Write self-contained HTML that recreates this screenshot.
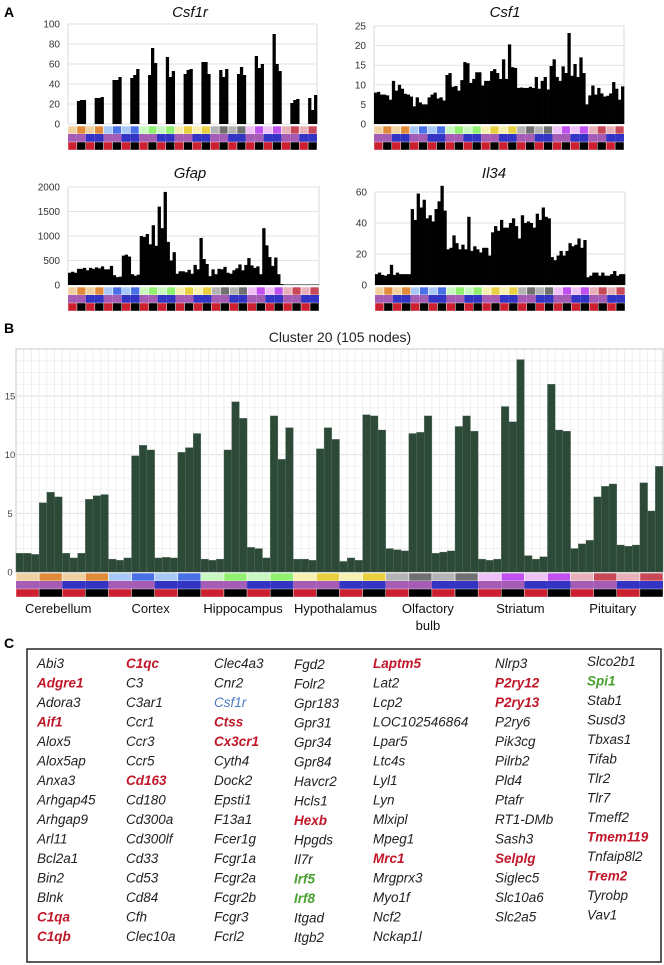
<!DOCTYPE html>
<html><head><meta charset="utf-8"><style>
html,body{margin:0;padding:0;background:#fff;}
svg{display:block;font-family:"Liberation Sans",sans-serif;}
</style></head><body>
<svg id="fig" width="664" height="965" viewBox="0 0 664 965" xmlns="http://www.w3.org/2000/svg">
<text x="4" y="17" font-size="14" font-weight="bold">A</text>
<text x="4" y="333" font-size="14" font-weight="bold">B</text>
<text x="4" y="648" font-size="14" font-weight="bold">C</text>
<g id="pa"></g>
<g id="pb"></g>
<g id="pc"></g>
</svg>
<script>
// ---- data ----
const csf1rVals=[0,0,0, 23,24,24, 0,0,0, 26,26,27, 0,0,0, 44,44,47, 0,0,0, 46,49,55, 0,0,0, 49,76,61, 0,0,0, 67,47,53, 0,0,0, 50,54,55, 0,0,0, 62,62,50, 0,0,0, 54,47,55, 0,0,0, 50,57,49, 0,0,0, 68,56,60, 0,0,0, 90,60,53, 0,0,0, 21,24,25, 0,0,0, 26,14,29];
const csf1Vals=[8,8.2,7.5, 7.5,7.3,6.2, 11,8.5,10, 9,7.7,7.5, 7,4.5,6.8, 5.5,5,5, 6.8,7.5,8, 6.5,6.8,6, 12.5,13,9.5, 9.7,8.5,11.2, 15.8,15.5,10.5, 11.5,13.2,13.2, 9.8,11,11, 13.5,14,13, 11.5,16.5,11.5, 20.3,14.5,14.3, 9.2,9.3,9.2, 9.2,9.5,9.2, 12,9,11, 12,8.8,14.8, 16.5,12,11, 14.7,13,23.2, 12.3,15.3,12, 17,13,5, 7.3,9.8,7.5, 9.2,7.8,7, 7.2,7.8,10.7, 9,6.2,9.6];
const gfapVals=[250,270,250, 330,330,350, 300,350,330, 360,340,380, 320,320,390, 200,160,170, 600,620,580, 220,190,210, 1000,980,1040, 830,1220,800, 1600,1160,1900, 880,500,670, 230,280,280, 260,310,230, 410,320,960, 530,430,180, 320,220,330, 320,370,250, 230,300,340, 420,300,410, 550,400,350, 380,220,1160, 810,570,390, 560,220,20, 10,10,10, 10,10,10, 10,10,10, 10,10,10];
const il34Vals=[7,8,6.5, 6,7,13, 6.5,8,7, 7,7,7, 49,42,59, 50,55,43, 45,41,49, 54,64,48, 23,24,32, 27,23,26, 23,44,22, 25,23,21, 24,24,19, 34,38,35, 42,37,37, 40,43,38, 30,45,40, 41,40,37, 46,42,50, 44,43,18, 16,19,22, 19,22,27, 25,26,30, 24,29,5, 6,8,8, 6,8,6, 6,7,9, 6,7,7];
const csf1rTicks=[0,20,40,60,80,100];
const csf1Ticks=[0,5,10,15,20,25];
const gfapTicks=[0,500,1000,1500,2000];
const il34Ticks=[0,20,40,60];
const clusterVals=[1.6,1.6,1.5, 5.9,6.8,6.4, 1.6,1.2,1.6, 6.2,6.5,6.6, 1.1,1.0,1.2, 9.9,10.8,10.4, 1.2,1.25,1.2, 10.2,10.6,11.8, 1.1,1.0,1.1, 10.4,14.5,13.1, 2.1,2.0,1.2, 13.3,9.6,12.3, 1.1,1.1,1.0, 10.5,12.3,11.3, 0.9,1.2,1.0, 13.4,13.3,12.1, 2.0,1.9,1.8, 11.8,11.9,13.3, 1.6,1.7,1.8, 12.4,13.3,12.0, 1.1,1.0,1.1, 14.1,12.8,18.1, 1.4,1.1,1.3, 16.0,12.1,12.0, 2.0,2.4,2.7, 6.4,7.3,7.5, 2.3,2.2,2.3, 7.6,5.2,9.0];
const clusterTicks=[0,5,10,15];
const regions=["Cerebellum","Cortex","Hippocampus","Hypothalamus","Olfactory","Striatum","Pituitary"];
const regionLight=["#f0d0a0","#a8c8f8","#c8f8c0","#f8f0b0","#b4b4b4","#f0c0f8","#e8b0b8"];
const regionDark=["#e08a3a","#4a70e8","#90f070","#e8d040","#707070","#c050f0","#c84858"];
const genes=[
["Abi3","Adgre1","Adora3","Aif1","Alox5","Alox5ap","Anxa3","Arhgap45","Arhgap9","Arl11","Bcl2a1","Bin2","Blnk","C1qa","C1qb"],
["C1qc","C3","C3ar1","Ccr1","Ccr3","Ccr5","Cd163","Cd180","Cd300a","Cd300lf","Cd33","Cd53","Cd84","Cfh","Clec10a"],
["Clec4a3","Cnr2","Csf1r","Ctss","Cx3cr1","Cyth4","Dock2","Epsti1","F13a1","Fcer1g","Fcgr1a","Fcgr2a","Fcgr2b","Fcgr3","Fcrl2"],
["Fgd2","Folr2","Gpr183","Gpr31","Gpr34","Gpr84","Havcr2","Hcls1","Hexb","Hpgds","Il7r","Irf5","Irf8","Itgad","Itgb2"],
["Laptm5","Lat2","Lcp2","LOC102546864","Lpar5","Ltc4s","Lyl1","Lyn","Mlxipl","Mpeg1","Mrc1","Mrgprx3","Myo1f","Ncf2","Nckap1l"],
["Nlrp3","P2ry12","P2ry13","P2ry6","Pik3cg","Pilrb2","Pld4","Ptafr","RT1-DMb","Sash3","Selplg","Siglec5","Slc10a6","Slc2a5"],
["Slco2b1","Spi1","Stab1","Susd3","Tbxas1","Tifab","Tlr2","Tlr7","Tmeff2","Tmem119","Tnfaip8l2","Trem2","Tyrobp","Vav1"]];
const redGenes=["Adgre1","Aif1","C1qa","C1qb","C1qc","Cd163","Ctss","Cx3cr1","Hexb","Laptm5","Mrc1","P2ry12","P2ry13","Selplg","Tmem119","Trem2"];
const greenGenes=["Irf5","Irf8","Spi1"];
const blueGenes=["Csf1r"];

const NS="http://www.w3.org/2000/svg";
function mk(tag,attrs,parent){const e=document.createElementNS(NS,tag);for(const k in attrs)e.setAttribute(k,attrs[k]);parent.appendChild(e);return e;}

function strips(g,x0,x1,y0,h){
  const w=(x1-x0)/28;
  for(let i=0;i<28;i++){
    const r=Math.floor(i/4);
    const c1=mk('rect',{x:x0+i*w,y:y0,width:w,height:h,fill:(i%2? regionDark[r]:regionLight[r]),stroke:'#fff','stroke-width':0.6},g);
    
    
    const c2=mk('rect',{x:x0+i*w,y:y0+h,width:w,height:h,fill:(Math.floor(i/2)%2? '#3434c4':'#a45cb4')},g);
    
    
    const c3=mk('rect',{x:x0+i*w,y:y0+2*h,width:w,height:h,fill:(i%2? '#000':'#cc2030'),stroke:'#fff','stroke-width':0.4},g);
    
    
  }
}

function small(name,vals,ticks,x0,x1,yTop,y0,max,tx,ty){
  const g=mk('g',{},document.getElementById('pa'));
  
  
  const sy=v=>y0-(v/max)*(y0-yTop);
  const t=mk('text',{x:tx,y:ty,'font-size':15,'font-style':'italic','text-anchor':'middle',fill:'#111'},g);
  t.textContent=name;
  
  
  const frame=mk('rect',{x:x0,y:sy(max),width:x1-x0,height:y0-sy(max),fill:'none',stroke:'#d8d8d8','stroke-width':1},g);
  
  
  ticks.forEach(v=>{
    const l=mk('line',{x1:x0,x2:x1,y1:sy(v),y2:sy(v),stroke:'#e2e2e2','stroke-width':1},g);
    
    
    const tl=mk('text',{x:x0-8,y:sy(v)+3.5,'font-size':10,'text-anchor':'end',fill:'#333'},g);
    tl.textContent=v;
    
    
  });
  const bw=(x1-x0)/vals.length;
  vals.forEach((v,i)=>{
    if(v<=0)return;
    const b=mk('rect',{x:x0+i*bw,y:sy(v),width:bw+0.3,height:y0-sy(v),fill:'#000'},g);
    
    
  });
  strips(g,x0,x1,y0+2,8);
}
small('Csf1r',csf1rVals,csf1rTicks,68,317,24,124,100,190,17);
small('Csf1',csf1Vals,csf1Ticks,374,624,26,124,25,505,17);
small('Gfap',gfapVals,gfapTicks,68,319,187,285,2000,190,178);
small('Il34',il34Vals,il34Ticks,375,625,192,285,60,494,178);

// Panel B
(function(){
  const g=document.getElementById('pb');
  const x0=16,x1=663,y0=572,max=19,yTop=349;
  const sy=v=>y0-(v/max)*(y0-yTop);
  const t=mk('text',{x:340,y:342,'font-size':14,'text-anchor':'middle',fill:'#222'},g);
  t.textContent='Cluster 20 (105 nodes)';
  
  
  const bw=(x1-x0)/clusterVals.length;
  for(let v=1;v<max;v++){
    const l=mk('line',{x1:x0,x2:x1,y1:sy(v),y2:sy(v),stroke:(v%5?'#f0f0f0':'#e0e0e0'),'stroke-width':1},g);
    
    
  }
  for(let i=1;i<clusterVals.length;i++){
    const l=mk('line',{x1:x0+i*bw,x2:x0+i*bw,y1:yTop,y2:y0,stroke:'#efefef','stroke-width':1},g);
    
    
  }
  const fr=mk('rect',{x:x0,y:yTop,width:x1-x0,height:y0-yTop,fill:'none',stroke:'#c8c8c8','stroke-width':1},g);
  
  
  clusterTicks.forEach(v=>{
    const tl=mk('text',{x:10,y:sy(v)+3.5,'font-size':9.5,'text-anchor':'middle',fill:'#444'},g);
    tl.textContent=v;
    
    
  });
  clusterVals.forEach((v,i)=>{
    const b=mk('rect',{x:x0+i*bw,y:sy(v),width:bw,height:y0-sy(v),fill:'#2d4a38',stroke:'#5a7464','stroke-width':0.3},g);
    
    
  });
  strips(g,x0,x1,y0+1,8);
  const gw=(x1-x0)/7;
  regions.forEach((r,i)=>{
    const tl=mk('text',{x:x0+gw*(i+0.5)-4,y:613,'font-size':13,'text-anchor':'middle',fill:'#111'},g);
    tl.textContent=r;
    
    
  });
  const b2=mk('text',{x:x0+gw*4.5-4,y:630,'font-size':13,'text-anchor':'middle',fill:'#111'},g);
  b2.textContent='bulb';
  
  
})();

// Panel C
(function(){
  const g=document.getElementById('pc');
  const box=mk('rect',{x:27,y:649,width:634,height:313,fill:'none',stroke:'#222','stroke-width':1.5},g);
  
  
  const colX=[37,126,214,294,373,495,587];
  const colY=[668,668,668,669,668,668,666];
  genes.forEach((col,ci)=>{
    col.forEach((name,ri)=>{
      const red=redGenes.includes(name),gr=greenGenes.includes(name),bl=blueGenes.includes(name);
      const tl=mk('text',{x:colX[ci],y:colY[ci]+ri*19.5,'font-size':13.5,'font-style':'italic','font-weight':(red||gr?'bold':'normal'),fill:(red?'#c0182a':gr?'#4aa030':bl?'#4a7ac0':'#222')},g);
      tl.textContent=name;
      
      
    });
  });
})();
</script>
</body></html>
